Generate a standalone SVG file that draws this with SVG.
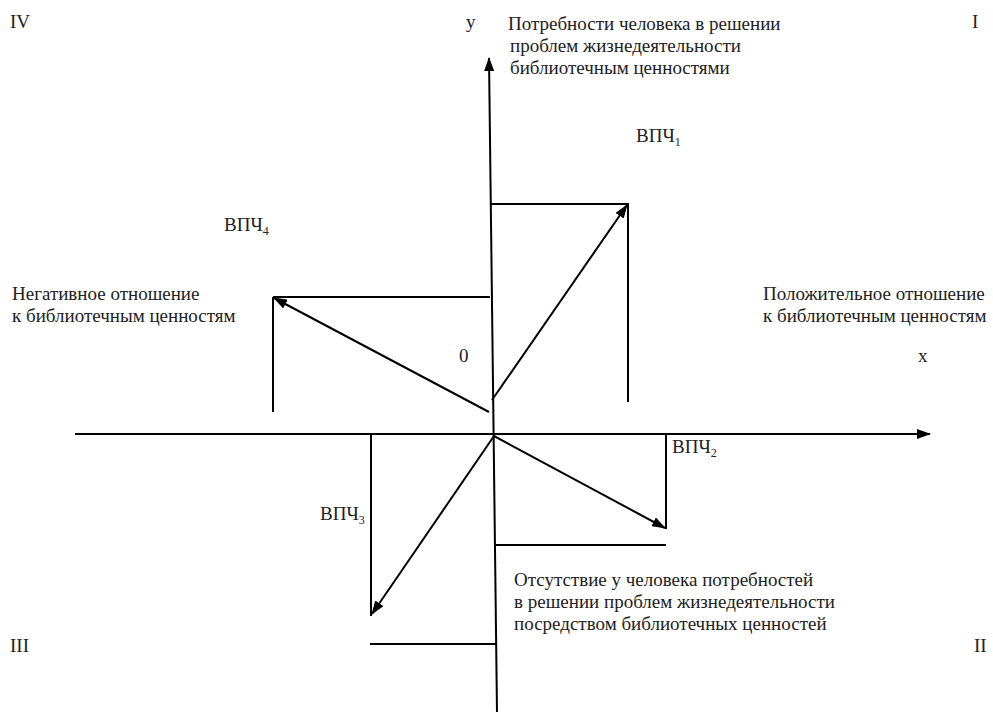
<svg xmlns="http://www.w3.org/2000/svg" width="993" height="713" viewBox="0 0 993 713">
<defs>
<marker id="ah" markerWidth="14" markerHeight="10" refX="13" refY="5" orient="auto" markerUnits="userSpaceOnUse">
<path d="M0,0 L14,5 L0,10 Z" fill="#000"/>
</marker>
</defs>
<style>
.t{font-family:"Liberation Serif","DejaVu Serif",serif;font-size:19px;fill:#222}
.sub{font-size:12px}
.ln{stroke:#000;stroke-width:2;fill:none}
</style>
<rect width="993" height="713" fill="#fff"/>
<g id="connectors">
<line class="ln" x1="497" y1="712" x2="489" y2="58" marker-end="url(#ah)"/>
<line class="ln" x1="75" y1="434" x2="930" y2="434" marker-end="url(#ah)"/>
<line class="ln" x1="490" y1="204" x2="629" y2="204"/>
<line class="ln" x1="628" y1="204" x2="628" y2="402"/>
<line class="ln" x1="492" y1="400" x2="627" y2="205" marker-end="url(#ah)"/>
<line class="ln" x1="273" y1="297" x2="490" y2="297"/>
<line class="ln" x1="273" y1="297" x2="273" y2="412"/>
<line class="ln" x1="489" y1="412" x2="274" y2="298" marker-end="url(#ah)"/>
<line class="ln" x1="666" y1="435" x2="666" y2="529"/>
<line class="ln" x1="496" y1="545" x2="666" y2="545"/>
<line class="ln" x1="494" y1="436" x2="665" y2="528" marker-end="url(#ah)"/>
<line class="ln" x1="371" y1="435" x2="371" y2="616"/>
<line class="ln" x1="370" y1="644" x2="497" y2="644"/>
<line class="ln" x1="494" y1="436" x2="372" y2="614" marker-end="url(#ah)"/>
</g>
<g class="t" font-family="Liberation Serif, DejaVu Serif, serif">
<g id="quadrants">
<text x="10" y="28">IV</text>
<text x="972" y="28">I</text>
<text x="10" y="652">III</text>
<text x="974" y="652">II</text>
</g>
<g id="axis-labels">
<text x="466" y="28">у</text>
<text x="918" y="362">x</text>
<text x="459" y="362">0</text>
</g>
<g id="top-label">
<text x="508" y="30">Потребности человека в решении</text>
<text x="510" y="52">проблем жизнедеятельности</text>
<text x="510" y="74">библиотечным ценностями</text>
</g>
<g id="left-label">
<text x="12" y="300">Негативное отношение</text>
<text x="12" y="322">к библиотечным ценностям</text>
</g>
<g id="right-label">
<text x="763" y="300">Положительное отношение</text>
<text x="763" y="322">к библиотечным ценностям</text>
</g>
<g id="bottom-label">
<text x="514" y="586">Отсутствие у человека потребностей</text>
<text x="514" y="608">в решении проблем жизнедеятельности</text>
<text x="514" y="630">посредством библиотечных ценностей</text>
</g>
<g id="vpch1"><text x="636" y="142">ВПЧ<tspan class="sub" dy="4">1</tspan></text></g>
<g id="vpch4"><text x="224" y="231">ВПЧ<tspan class="sub" dy="4">4</tspan></text></g>
<g id="vpch2"><text x="672" y="453">ВПЧ<tspan class="sub" dy="4">2</tspan></text></g>
<g id="vpch3"><text x="320" y="520">ВПЧ<tspan class="sub" dy="4">3</tspan></text></g>
</g>
</svg>
